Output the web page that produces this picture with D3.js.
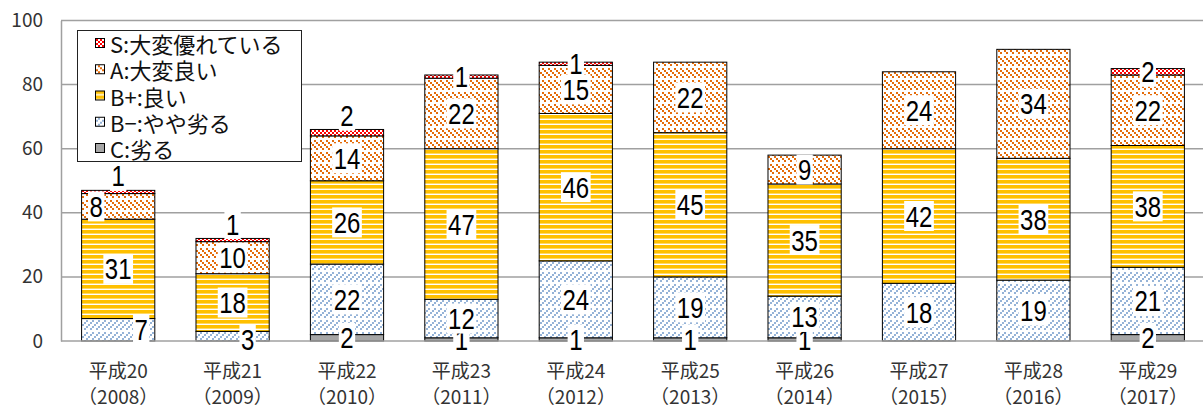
<!DOCTYPE html>
<html>
<head>
<meta charset="utf-8">
<script src="https://cdn.jsdelivr.net/npm/d3@7"></script>
<style>
  html, body { margin: 0; padding: 0; background: #fff; }
  svg { display: block; }
</style>
</head>
<body>
<svg id="chart" width="1203" height="408"></svg>
<script>
// Categories (era year / western year)
const eraLabels = ["平成20", "平成21", "平成22", "平成23", "平成24", "平成25", "平成26", "平成27", "平成28", "平成29"];
const yearLabels = ["（2008）", "（2009）", "（2010）", "（2011）", "（2012）", "（2013）", "（2014）", "（2015）", "（2016）", "（2017）"];

// Counts per rating, stacked bottom to top
const seriesNames = ["C:劣る", "B−:やや劣る", "B+:良い", "A:大変良い", "S:大変優れている"];
const valuesC      = [0, 0, 2, 1, 1, 1, 1, 0, 0, 2];
const valuesBminus = [7, 3, 22, 12, 24, 19, 13, 18, 19, 21];
const valuesBplus  = [31, 18, 26, 47, 46, 45, 35, 42, 38, 38];
const valuesA      = [8, 10, 14, 22, 15, 22, 9, 24, 34, 22];
const valuesS      = [1, 1, 2, 1, 1, 0, 0, 0, 0, 2];

const yTicks = [0, 20, 40, 60, 80, 100];

const seriesValues = [valuesC, valuesBminus, valuesBplus, valuesA, valuesS];
const keys = ["C", "Bm", "Bp", "A", "S"];

const table = eraLabels.map((era, i) => {
  const row = { era, year: yearLabels[i] };
  keys.forEach((k, j) => { row[k] = seriesValues[j][i]; });
  return row;
});

const svg = d3.select("#chart");
const font = "'Noto Sans CJK JP', 'Noto Sans', sans-serif";
const labelFont = "'Liberation Sans', Arial, sans-serif";

const x = d3.scaleBand().domain(eraLabels).range([61, 1205]).paddingInner(0.36).paddingOuter(0.18);
const y = d3.scaleLinear().domain([0, 100]).range([341, 20.5]);

// ---- fill patterns ----
const defs = svg.append("defs");

function pattern(id, w, h, bg) {
  const p = defs.append("pattern").attr("id", id)
    .attr("patternUnits", "userSpaceOnUse").attr("width", w).attr("height", h);
  p.append("rect").attr("width", w).attr("height", h).attr("fill", bg);
  return p;
}
function dots(p, pts, size, color) {
  pts.forEach(([px, py]) => p.append("rect").attr("x", px).attr("y", py)
    .attr("width", size).attr("height", size).attr("fill", color));
}
// S: small red checker
const pS = pattern("pat-S", 4, 4, "#fff");
dots(pS, [[0, 0], [2, 2]], 2, "#ff0000");
// A: orange dashed downward diagonal
const pA = pattern("pat-A", 12, 12, "#fff");
dots(pA, [[0, 0], [2, 2], [4, 4], [8, 8], [10, 10], [6, 0], [8, 2], [10, 4], [2, 8], [4, 10]], 2, "#e46c0a");
// B+: gold horizontal stripes
const pBp = pattern("pat-Bp", 5, 5, "#fff");
pBp.append("rect").attr("x", 0).attr("y", 0).attr("width", 5).attr("height", 3.6).attr("fill", "#ffc000");
// B-: light blue dashed upward diagonal
const pBm = pattern("pat-Bm", 12, 12, "#fff");
dots(pBm, [[10, 0], [8, 2], [6, 4], [2, 8], [0, 10], [4, 0], [2, 2], [0, 4], [8, 8], [6, 10]], 2, "#95b3d7");

const fills = { C: "#a6a6a6", Bm: "url(#pat-Bm)", Bp: "url(#pat-Bp)", A: "url(#pat-A)", S: "url(#pat-S)" };

// ---- grid and axis ----
svg.append("g").selectAll("line").data(yTicks.filter(t => t > 0)).join("line")
  .attr("x1", 61).attr("x2", 1205)
  .attr("y1", d => y(d)).attr("y2", d => y(d))
  .attr("stroke", "#a0a0a0").attr("stroke-width", 1.5);

const yAxis = svg.append("g").attr("transform", "translate(61,0)")
  .call(d3.axisLeft(y).tickValues(yTicks).tickSize(0).tickPadding(18));
yAxis.select(".domain").attr("stroke", "#a0a0a0").attr("stroke-width", 1.5);
yAxis.selectAll("text").attr("font-family", font).attr("font-size", 19).attr("fill", "#333");

// ---- stacked bars ----
const stack = d3.stack().keys(keys)(table);

const layers = svg.append("g").selectAll("g").data(stack).join("g")
  .attr("fill", d => fills[d.key]);

layers.selectAll("rect").data(d => d.filter(s => s[1] - s[0] > 0)).join("rect")
  .attr("x", d => x(d.data.era))
  .attr("width", x.bandwidth())
  .attr("y", d => y(d[1]))
  .attr("height", d => y(d[0]) - y(d[1]))
  .attr("stroke", "#000").attr("stroke-width", 1);

// baseline
svg.append("line").attr("x1", 61).attr("x2", 1205).attr("y1", y(0)).attr("y2", y(0))
  .attr("stroke", "#a0a0a0").attr("stroke-width", 1.5);

// ---- value labels ----
// small nudges for labels that would overlap their neighbours
const nudge = {
  "平成20|A": [-22, 0], "平成20|Bm": [23, 0], "平成21|Bm": [15, 3],
  "平成20|S": [0, -16], "平成21|S": [0, -16], "平成22|S": [0, -17]
};

const labels = [];
stack.forEach(layer => {
  layer.forEach(s => {
    const v = s[1] - s[0];
    if (v <= 0) return;
    const k = s.data.era + "|" + layer.key;
    const n = nudge[k] || [0, 0];
    labels.push({
      text: String(v),
      cx: x(s.data.era) + x.bandwidth() / 2 + n[0],
      cy: (y(s[0]) + y(s[1])) / 2 + n[1]
    });
  });
});

const sx = 0.8;
const lg = svg.append("g").selectAll("g").data(labels).join("g")
  .attr("transform", d => `translate(${d.cx},${d.cy})`);
const lt = lg.append("text")
  .attr("transform", `scale(${sx},1)`)
  .attr("text-anchor", "middle").attr("y", 10.5)
  .attr("font-family", labelFont).attr("font-size", 30).attr("fill", "#000")
  .text(d => d.text);
lt.each(function () {
  const b = this.getBBox();
  const w = b.width * sx;
  d3.select(this.parentNode).insert("rect", "text")
    .attr("x", -w / 2 - 1.5).attr("y", -15)
    .attr("width", w + 3).attr("height", 30)
    .attr("fill", "#fff");
});

// ---- category labels ----
const xl = svg.append("g").selectAll("g").data(table).join("g")
  .attr("transform", d => `translate(${x(d.era) + x.bandwidth() / 2},0)`);
xl.append("text").attr("y", 369).attr("text-anchor", "middle").attr("dominant-baseline", "central")
  .attr("font-family", font).attr("font-size", 19).attr("fill", "#333").text(d => d.era);
xl.append("text").attr("y", 395).attr("text-anchor", "middle").attr("dominant-baseline", "central")
  .attr("font-family", font).attr("font-size", 19).attr("fill", "#333").text(d => d.year);

// ---- legend ----
const legend = svg.append("g");
legend.append("rect").attr("x", 77.5).attr("y", 30.5).attr("width", 224).attr("height", 131)
  .attr("fill", "#fff").attr("stroke", "#222").attr("stroke-width", 1);

const legendKeys = keys.slice().reverse();
const legendNames = seriesNames.slice().reverse();
const rowY = d3.scalePoint().domain(legendKeys).range([43, 148]);

const li = legend.selectAll("g.item").data(legendKeys).join("g").attr("class", "item")
  .attr("transform", d => `translate(0,${rowY(d)})`);
li.append("rect").attr("x", 95.5).attr("y", -4.5).attr("width", 9).attr("height", 9)
  .attr("fill", d => fills[d]).attr("stroke", "#000").attr("stroke-width", 1);
li.append("text").attr("x", 110).attr("dominant-baseline", "central")
  .attr("font-family", font).attr("font-size", 22).attr("fill", "#111")
  .text((d, i) => legendNames[i]);
</script>
</body>
</html>
